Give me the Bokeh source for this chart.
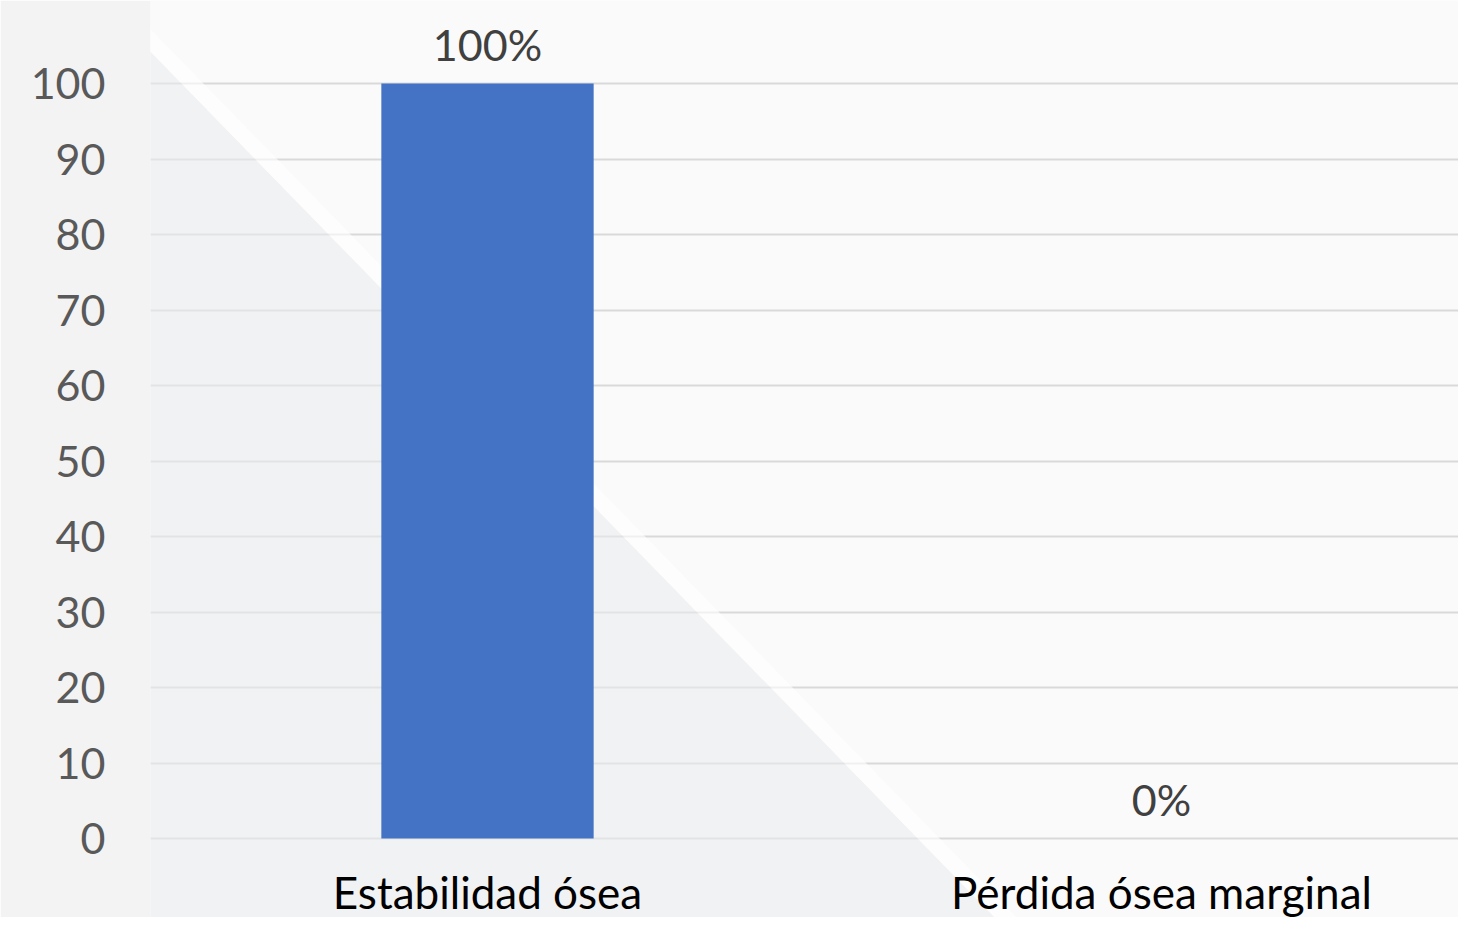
from bokeh.plotting import figure
from bokeh.models import Range1d, FixedTicker, ColumnDataSource, PolyAnnotation
from bokeh.core.properties import value
from bokeh.embed import file_html
from bokeh.resources import INLINE

categories = ["Estabilidad ósea", "Pérdida ósea marginal"]
values = [100, 0]
labels = ["100%", "0%"]
y_ticks = [0, 10, 20, 30, 40, 50, 60, 70, 80, 90, 100]

FONT = "Lato"
BG = "#fafafa"

xs = [i + 0.5 for i in range(len(categories))]
src = ColumnDataSource(dict(x=xs, top=values, label=labels,
                            cat=categories, base=[0] * len(categories)))

p = figure(
    width=1458, height=917,
    output_backend="svg", toolbar_location=None,
    x_axis_location=None,
    x_range=Range1d(0, 1308 / 674), y_range=Range1d(-79 / 7.55, 838 / 7.55),
    min_border_left=150, min_border_right=0, min_border_top=0, min_border_bottom=0,
)
p.outline_line_color = None
p.background_fill_color = BG
p.border_fill_color = "#f3f3f4"

# subtle diagonal background shading (decoration only, frame-relative screen units)
shade = PolyAnnotation(xs=[-150, -50, 852, -150], ys=[917, 917, -8, -8],
                       xs_units="screen", ys_units="screen",
                       fill_color="#eaebed", fill_alpha=0.55, line_color=None,
                       level="underlay")
glow = PolyAnnotation(xs=[-50, -28, 874, 852], ys=[917, 917, -8, -8],
                      xs_units="screen", ys_units="screen",
                      fill_color="#ffffff", fill_alpha=0.6, line_color=None,
                      level="underlay")
p.add_layout(shade)
p.add_layout(glow)

p.vbar(x="x", top="top", bottom=0, width=0.315, source=src,
       fill_color="#4472C4", line_color=None)

# value labels
p.text(x="x", y="top", text="label", source=src,
       text_font=value(FONT), text_font_size="43px", text_color="#404040",
       text_align="center", text_baseline="middle", y_offset=-39)

# category labels
p.text(x="x", y="base", text="cat", source=src,
       text_font=value(FONT), text_font_size="44px", text_color="#000000",
       text_align="center", text_baseline="middle", y_offset=53)

# y axis
p.yaxis.ticker = FixedTicker(ticks=y_ticks)
p.yaxis.axis_line_color = None
p.yaxis.major_tick_line_color = None
p.yaxis.minor_tick_line_color = None
p.yaxis.major_tick_out = 0
p.yaxis.major_tick_in = 0
p.yaxis.major_label_standoff = 45
p.yaxis.major_label_text_font = FONT
p.yaxis.major_label_text_font_size = "43px"
p.yaxis.major_label_text_color = "#595959"

p.xgrid.grid_line_color = None
p.ygrid.ticker = FixedTicker(ticks=y_ticks)
p.ygrid.grid_line_color = "#d9d9d9"
p.ygrid.grid_line_width = 2

open("out.html", "w").write(file_html(p, INLINE))
